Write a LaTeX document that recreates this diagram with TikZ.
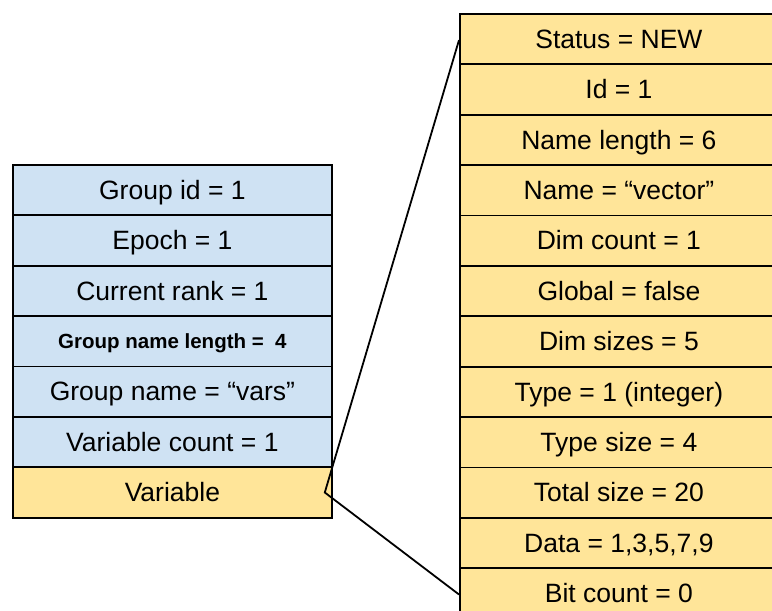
\documentclass[tikz,border=0pt]{standalone}
\usepackage{fontspec}
\setmainfont{Liberation Sans}
\definecolor{cellblue}{HTML}{CFE2F3}
\definecolor{cellyellow}{HTML}{FFE599}
\begin{document}
\begin{tikzpicture}[x=1pt,y=-1pt,
  cell/.style={draw=black,line width=1.8pt,minimum width=319pt,minimum height=50.4pt,inner sep=0pt,anchor=north west,text height=18.5pt,text depth=0pt,font=\fontsize{26.5}{30}\selectfont},
  bluecell/.style={cell,fill=cellblue},
  yellowcell/.style={cell,fill=cellyellow,minimum width=318pt},
  link/.style={draw=black,line width=1.8pt,line join=miter}]
\useasboundingbox (0,0) rectangle (772,611);
% left column
\node[bluecell] (g1) at (12,164) {Group id = 1};
\node[bluecell] (g2) at (12,214.4) {Epoch = 1};
\node[bluecell] (g3) at (12,264.8) {Current rank = 1};
\node[bluecell,text height=14.5pt,font=\fontsize{20.5}{24}\bfseries] (g4) at (12,315.2) {Group name length =\ \ 4};
\node[bluecell] (g5) at (12,365.6) {Group name = “vars”};
\node[bluecell] (g6) at (12,416) {Variable count = 1};
\node[bluecell,fill=cellyellow] (var) at (12,466.4) {Variable};
% right column
\node[yellowcell] (v1) at (459,13) {Status = NEW};
\node[yellowcell] (v2) at (459,63.4) {Id = 1};
\node[yellowcell] (v3) at (459,113.8) {Name length = 6};
\node[yellowcell] (v4) at (459,164.2) {Name = “vector”};
\node[yellowcell] (v5) at (459,214.6) {Dim count = 1};
\node[yellowcell] (v6) at (459,265) {Global = false};
\node[yellowcell] (v7) at (459,315.4) {Dim sizes = 5};
\node[yellowcell] (v8) at (459,365.8) {Type = 1 (integer)};
\node[yellowcell] (v9) at (459,416.2) {Type size = 4};
\node[yellowcell] (v10) at (459,466.6) {Total size = 20};
\node[yellowcell] (v11) at (459,517) {Data = 1,3,5,7,9};
\node[yellowcell] (v12) at (459,567.4) {Bit count = 0};
% connector
\coordinate (tip) at ([xshift=-8pt]var.east);
\draw[link] ([yshift=-1pt]v1.west) -- (tip) -- ([yshift=-1pt]v12.west);
\end{tikzpicture}
\end{document}
